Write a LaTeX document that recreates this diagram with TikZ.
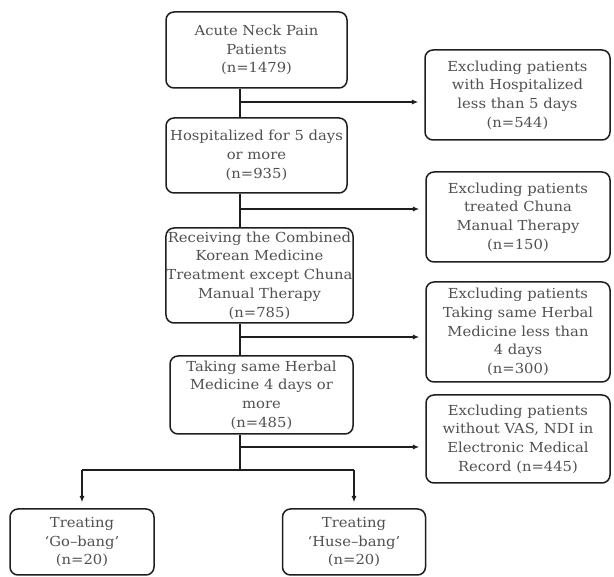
\documentclass[tikz,border=0pt]{standalone}
\usepackage{fontspec}
\setmainfont{DejaVu Serif}[FakeStretch=1.07]
\usetikzlibrary{arrows.meta,positioning}
\definecolor{cLine}{HTML}{1E1E1E}
\definecolor{cText}{HTML}{505050}
\tikzset{
  stage/.style={draw=cLine,line width=1.5pt,rounded corners=8pt,align=center,
    text=cText,font=\fontsize{13.8}{18.7}\selectfont,inner sep=0.5pt},
  flow/.style={draw=cLine,line width=1.4pt},
  arr/.style={-{Latex[length=2.2mm,width=1.8mm]},draw=cLine,line width=1.4pt},
}
\begin{document}
\begin{tikzpicture}[x=1pt,y=-1pt]
  \useasboundingbox (0,0) rectangle (614,577);
  % main stages
  \node[stage,minimum width=181pt,minimum height=76pt] (n1) at (256.5,50) {Acute Neck Pain\\Patients\\(n=1479)};
  \node[stage,minimum width=181pt,minimum height=75pt] (n2) at (256.5,155.5) {Hospitalized for 5 days\\or more\\(n=935)};
  \node[stage,minimum width=187pt,minimum height=95pt] (n3) at (259.5,275.5) {Receiving the Combined\\Korean Medicine\\Treatment except Chuna\\Manual Therapy\\(n=785)};
  \node[stage,minimum width=183pt,minimum height=78pt] (n4) at (261.5,395) {Taking same Herbal\\Medicine 4 days or\\more\\(n=485)};
  % exclusions
  \node[stage,minimum width=185pt,minimum height=90pt] (r1) at (517.5,95) {Excluding patients\\with Hospitalized\\less than 5 days\\(n=544)};
  \node[stage,minimum width=184pt,minimum height=90pt] (r2) at (518,217) {Excluding patients\\treated Chuna\\Manual Therapy\\(n=150)};
  \node[stage,minimum width=184pt,minimum height=100pt] (r3) at (518,332) {Excluding patients\\Taking same Herbal\\Medicine less than\\4 days\\(n=300)};
  \node[stage,minimum width=184pt,minimum height=88pt] (r4) at (518,439) {Excluding patients\\without VAS, NDI in\\Electronic Medical\\Record (n=445)};
  % groups
  \node[stage,minimum width=144pt,minimum height=66pt] (g1) at (82,542) {Treating\\‘Go–bang’\\(n=20)};
  \node[stage,minimum width=143pt,minimum height=66pt] (g2) at (354,542) {Treating\\‘Huse–bang’\\(n=20)};
  \coordinate (spine) at (240,0);
  \coordinate (b1) at (240,102);
  \coordinate (b2) at (240,209);
  \coordinate (b3) at (240,337);
  \coordinate (b4) at (240,447);
  \coordinate (split) at (240,470);
  \draw[flow] (n1.south -| spine) -- (n2.north -| spine);
  \draw[flow] (n2.south -| spine) -- (n3.north -| spine);
  \draw[flow] (n3.south -| spine) -- (n4.north -| spine);
  \draw[flow] (n4.south -| spine) -- (split);
  \foreach \b/\r in {b1/r1,b2/r2,b3/r3,b4/r4}{
    \draw[arr,shorten >=6pt] (\b) -- (\b -| \r.west);
  }
  \draw[flow] (g1.north |- split) -- (g2.north |- split);
  \draw[arr,shorten >=6pt] (g1.north |- split) -- (g1.north);
  \draw[arr,shorten >=6pt] (g2.north |- split) -- (g2.north);
\end{tikzpicture}
\end{document}
